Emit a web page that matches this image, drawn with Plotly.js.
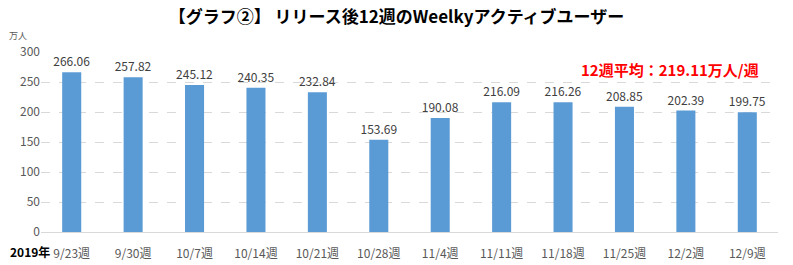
<!DOCTYPE html>
<html><head><meta charset="utf-8">
<script src="https://cdn.plot.ly/plotly-3.0.1.min.js"></script>
<style>html,body{margin:0;padding:0;background:#fff}#chart{width:793px;height:265px}</style>
</head><body><div id="chart"></div>
<script>
const categories = ["9/23週","9/30週","10/7週","10/14週","10/21週","10/28週","11/4週","11/11週","11/18週","11/25週","12/2週","12/9週"];
const values = [266.06,257.82,245.12,240.35,232.84,153.69,190.08,216.09,216.26,208.85,202.39,199.75];
const yTicks = [0,50,100,150,200,250,300];
const titleText = "【グラフ②】 リリース後12週のWeelkyアクティブユーザー";
const avgText = "12週平均：219.11万人/週";
const unitText = "万人";
const yearText = "2019年";

const F = '"Noto Sans CJK JP", "Noto Sans", sans-serif';
const data = [{
  type: 'bar', x: categories, y: values,
  marker: {color: '#5b9bd5'},
  text: values.map(v => v.toFixed(2)), textposition: 'outside', constraintext: 'none',
  textfont: {size: 12, color: '#404040', family: F},
  cliponaxis: false, hoverinfo: 'none'
}];
const layout = {
  width: 793, height: 265,
  margin: {l: 41, r: 15, t: 52, b: 33},
  paper_bgcolor: '#fff', plot_bgcolor: '#fff',
  bargap: 0.69,
  font: {family: F, size: 12, color: '#595959'},
  title: {text: '<b>' + titleText + '</b>', x: 0.5, xanchor: 'center', y: 0.935, yanchor: 'middle',
          font: {size: 17, color: '#000', family: F}},
  xaxis: {type: 'category', tickvals: categories, ticktext: categories, showgrid: false,
          showline: true, linecolor: '#d9d9d9', linewidth: 1, ticks: '', ticklabelstandoff: 11,
          tickfont: {size: 12, color: '#595959'}, zeroline: false},
  yaxis: {range: [0, 300], tickvals: yTicks, showgrid: true, gridcolor: '#d9d9d9', griddash: 'dash',
          zeroline: true, zerolinecolor: '#d9d9d9', zerolinewidth: 1, ticks: '', ticklen: 0,
          ticksuffix: '\u2002', automargin: false,
          tickfont: {size: 12, color: '#595959'}, showline: false},
  showlegend: false,
  annotations: [
    {text: '<b>' + avgText + '</b>', xref: 'paper', yref: 'paper', x: 0.977, y: 0.905, xanchor: 'right', yanchor: 'middle',
     showarrow: false, font: {size: 15, color: '#ff0000', family: F}},
    {text: unitText, xref: 'paper', yref: 'paper', x: -0.016, y: 1.045, xanchor: 'right', yanchor: 'bottom',
     showarrow: false, font: {size: 9, color: '#595959', family: F}},
    {text: '<b>' + yearText + '</b>', xref: 'paper', yref: 'paper', x: -0.045, y: -0.106, xanchor: 'left', yanchor: 'middle',
     showarrow: false, font: {size: 12, color: '#000', family: F}}
  ]
};
Plotly.newPlot('chart', data, layout, {displayModeBar: false, staticPlot: true});
</script></body></html>
